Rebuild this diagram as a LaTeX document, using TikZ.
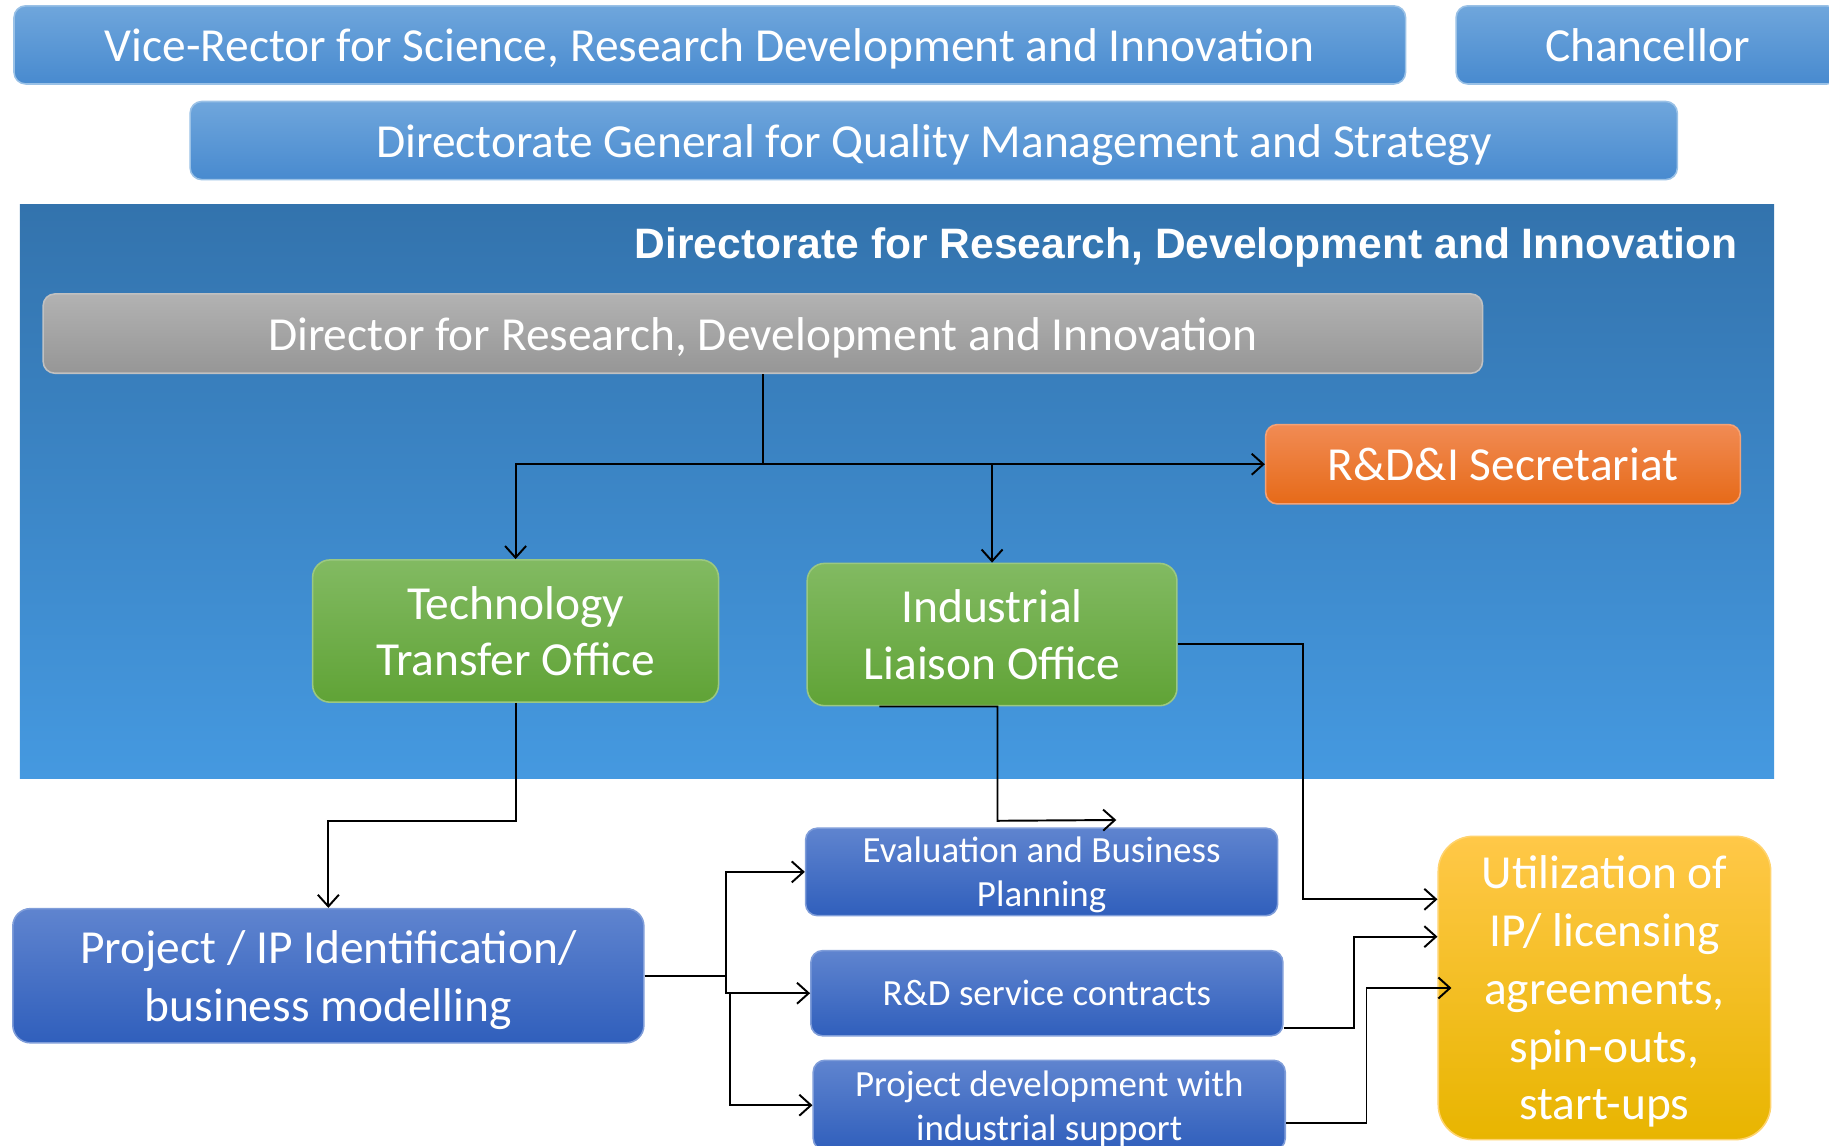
\documentclass[tikz,border=0pt]{standalone}
\usepackage{fontspec}
\setmainfont{Carlito}
\newfontfamily\headfont{Liberation Sans}
\usepackage{tikz}
\usetikzlibrary{positioning,arrows.meta,calc}
\definecolor{skytop}{RGB}{111,166,220}
\definecolor{skybot}{RGB}{72,138,207}
\definecolor{deeptop}{RGB}{51,115,173}
\definecolor{deepbot}{RGB}{69,153,224}
\definecolor{greytop}{RGB}{178,178,178}
\definecolor{greybot}{RGB}{150,150,150}
\definecolor{orangetop}{RGB}{241,139,84}
\definecolor{orangebot}{RGB}{230,106,24}
\definecolor{greentop}{RGB}{130,186,98}
\definecolor{greenbot}{RGB}{96,163,54}
\definecolor{bluetop}{RGB}{95,132,207}
\definecolor{bluebot}{RGB}{48,95,188}
\definecolor{goldtop}{RGB}{255,200,72}
\definecolor{goldbot}{RGB}{232,181,0}

\begin{document}
\begin{tikzpicture}[
  x=0.3pt, y=-0.3pt,
  box/.style={rectangle, rounded corners=3pt, text=white, align=center, inner sep=0pt, text depth=0pt, font=\fontsize{12.2}{14.6}\selectfont},
  topbox/.style={box, top color=skytop, bottom color=skybot, draw=skytop!70!white, minimum height=20.1pt},
  greenbox/.style={box, rounded corners=4.5pt, top color=greentop, bottom color=greenbot, draw=greentop!80!white, minimum height=36.6pt},
  bluebox/.style={box, rounded corners=4.5pt, top color=bluetop, bottom color=bluebot, draw=bluetop!80!white},
  smallbox/.style={bluebox, rounded corners=3pt, font=\fontsize{9.5}{11.3}\selectfont, minimum width=121.4pt},
  arrow/.style={-{Straight Barb[length=3pt,width=5.4pt]}, line width=0.5pt}
]
\useasboundingbox (0,0) rectangle (1568,982);
\clip (0,0) rectangle (1568,982);

% Top row
\node[topbox, minimum width=357.9pt] (vice) at (608.5,38.5) {Vice-Rector for Science, Research Development and Innovation};
\node[topbox, minimum width=98.4pt, right=12.6pt of vice] (chancellor) {Chancellor};
\node[topbox, minimum width=382.5pt] (dgqms) at (800.5,120.5) {Directorate General for Quality Management and Strategy};

% Directorate
\node[rectangle, top color=deeptop, bottom color=deepbot, minimum width=451.2pt, minimum height=147.6pt, inner sep=0pt] (rdi) at (769,421) {};
\node[anchor=east, text=white, text depth=0pt, font=\headfont\bfseries\fontsize{10.95}{13}\selectfont, inner sep=0pt] (rdititle) at (1490,208) {Directorate for Research, Development and Innovation};
\node[box, top color=greytop, bottom color=greybot, draw=greytop!80!white, minimum width=370.2pt, minimum height=20.4pt] (director) at (654,286) {Director for Research, Development and Innovation};
\node[box, top color=orangetop, bottom color=orangebot, draw=orangetop!80!white, minimum width=122.1pt, minimum height=20.4pt] (secretariat) at (1288.5,398) {R\&D\&I Secretariat};
\node[greenbox, minimum width=104.4pt] (tto) at (442,541) {Technology\\Transfer Office};
\node[greenbox, minimum width=95.1pt] (ilo) at (850.5,544) {Industrial\\Liaison Office};

% Lower part
\node[bluebox, minimum width=162.3pt, minimum height=34.5pt, font=\fontsize{12.2}{15}\selectfont] (project) at (281.5,836.5) {Project / IP Identification/\\business modelling};
\node[smallbox, minimum height=22.5pt] (evaluation) at (893,747.5) {Evaluation and Business\\Planning};
\node[smallbox, minimum height=21.9pt] (service) at (897.5,851.5) {R\&D service contracts};
\node[smallbox, minimum height=23.1pt] (devel) at (899.5,947.5) {Project development with\\industrial support};
\node[box, rounded corners=9pt, top color=goldtop, bottom color=goldbot, draw=goldtop!80!white, minimum width=85.5pt, minimum height=78pt, font=\fontsize{12.2}{14.85}\selectfont] (util) at (1375.5,847) {Utilization of\\IP/ licensing\\agreements,\\spin-outs,\\start-ups};

% Arrows
\coordinate (split) at (director.south |- secretariat.west);
\coordinate (evalin) at (957,703);
\draw[arrow] (director) |- (secretariat);
\draw[arrow] (split) -| (tto);
\draw[arrow] (split) -| (ilo);
\draw[arrow] (tto.south) -- ++(0,101) -| (project.north);
\draw[arrow] ([xshift=-29pt]ilo.south) -- ([xshift=1.4pt]ilo.south) -- ++(0,98) -- (evalin);
\draw[arrow] ([yshift=-2.4pt]ilo.east) -- ++(107,0) |- ([yshift=22.8pt]util.west);
\draw[arrow] (project.east) -- ++(70,0) |- (evaluation.west);
\draw[arrow] (project.east) -- ++(70,0) |- (service.west);
\draw[arrow] ([xshift=22pt,yshift=-4.8pt]project.east) |- (devel.west);
\draw[arrow] ([yshift=-8.85pt]service.east) -- ++(60,0) |- ([yshift=13.2pt]util.west);
\draw[arrow] ([yshift=-4.65pt]devel.east) -- ++(69,0) |- ([xshift=3.6pt]util.west);

\end{tikzpicture}
\end{document}
